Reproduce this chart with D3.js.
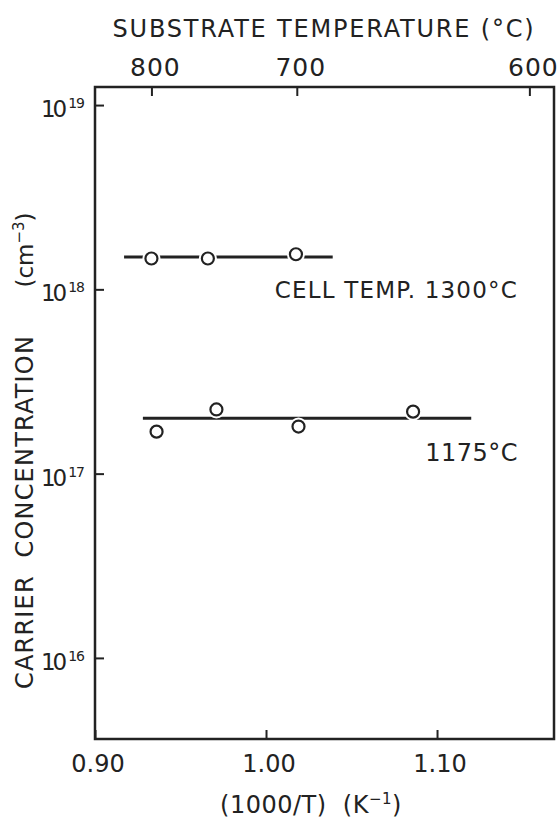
<!DOCTYPE html>
<html>
<head>
<meta charset="utf-8">
<script src="https://cdn.jsdelivr.net/npm/d3@7"></script>
<style>
  html, body { margin: 0; padding: 0; background: #fff; }
  svg { display: block; }
  text { font-family: "DejaVu Sans", sans-serif; fill: #222; }
</style>
</head>
<body>
<svg id="chart" width="559" height="822"></svg>
<script>
/* ---------- data ---------- */
const xTicks = [0.90, 1.00, 1.10];
const yTicks = [1e16, 1e17, 1e18, 1e19];

// substrate temperature ticks along the top, placed at their 1000/T position
const topTickPos = [0.933, 1.018, 1.154];
const topTickLabels = ['800', '700', '600'];

// cell temperature 1300 °C
const cell1300X = [0.933, 0.966, 1.0175];
const cell1300Y = [1.47e18, 1.47e18, 1.55e18];
const fit1300X = [0.917, 1.039];
const fit1300Y = 1.5e18;

// cell temperature 1175 °C
const cell1175X = [0.936, 0.971, 1.019, 1.086];
const cell1175Y = [1.69e17, 2.23e17, 1.80e17, 2.17e17];
const fit1175X = [0.928, 1.120];
const fit1175Y = 2.0e17;

/* ---------- layout ---------- */
const plotL = 95, plotR = 554, plotT = 87, plotB = 739;
const ink = '#222';

const svg = d3.select('#chart');

const x = d3.scaleLinear().domain([0.9, 1.1684]).range([plotL, plotR]);
const y = d3.scaleLog().domain([Math.pow(10, 15.56), Math.pow(10, 19.098)]).range([plotB, plotT]);

/* ---------- frame ---------- */
svg.append('rect')
  .attr('x', plotL).attr('y', plotT)
  .attr('width', plotR - plotL).attr('height', plotB - plotT)
  .attr('fill', 'none')
  .attr('stroke', ink)
  .attr('stroke-width', 2.5);

/* ---------- bottom axis ---------- */
const gx = svg.append('g').attr('transform', `translate(0,${plotB})`)
  .call(d3.axisTop(x).tickValues(xTicks).tickSize(9).tickFormat(''));
gx.select('.domain').remove();
gx.selectAll('.tick line').attr('stroke', ink).attr('stroke-width', 2);

svg.append('g').selectAll('text')
  .data(xTicks)
  .join('text')
  .attr('x', d => x(d) + 3)
  .attr('y', 772)
  .attr('text-anchor', 'middle')
  .attr('font-size', 24)
  .text(d => d.toFixed(2));

const xl = svg.append('text')
  .attr('x', 311).attr('y', 813)
  .attr('text-anchor', 'middle')
  .attr('font-size', 24)
  .attr('letter-spacing', 0.5);
xl.append('tspan').text('(1000/T)\u00a0\u00a0(K');
xl.append('tspan').attr('dy', -9).attr('font-size', 15).text('\u22121');
xl.append('tspan').attr('dy', 9).text(')');

/* ---------- top axis (substrate temperature) ---------- */
const gt = svg.append('g').attr('transform', `translate(0,${plotT})`)
  .call(d3.axisBottom(x).tickValues(topTickPos).tickSize(9).tickFormat(''));
gt.select('.domain').remove();
gt.selectAll('.tick line').attr('stroke', ink).attr('stroke-width', 2);

svg.append('g').selectAll('text')
  .data(topTickPos)
  .join('text')
  .attr('x', d => x(d) + 4)
  .attr('y', 76)
  .attr('text-anchor', 'middle')
  .attr('font-size', 25)
  .attr('letter-spacing', 1)
  .text((d, i) => topTickLabels[i]);

svg.append('text')
  .attr('x', 324).attr('y', 37)
  .attr('text-anchor', 'middle')
  .attr('font-size', 24)
  .attr('letter-spacing', 1.8)
  .text('SUBSTRATE TEMPERATURE (\u00b0C)');

/* ---------- left axis ---------- */
const gy = svg.append('g').attr('transform', `translate(${plotL},0)`)
  .call(d3.axisRight(y).tickValues(yTicks).tickSize(9).tickFormat(''));
gy.select('.domain').remove();
gy.selectAll('.tick line').attr('stroke', ink).attr('stroke-width', 2);

const yl = svg.append('g').selectAll('text')
  .data(yTicks)
  .join('text')
  .attr('x', 84)
  .attr('y', d => y(d) + 12)
  .attr('text-anchor', 'end')
  .attr('font-size', 23);
yl.append('tspan').attr('letter-spacing', -3).text('10');
yl.append('tspan')
  .attr('dy', -9)
  .attr('dx', 4)
  .attr('font-size', 14)
  .attr('letter-spacing', -1)
  .text(d => Math.round(Math.log10(d)));

svg.append('text')
  .attr('transform', 'translate(33,512) rotate(-90)')
  .attr('text-anchor', 'middle')
  .attr('font-size', 24)
  .attr('letter-spacing', 1.2)
  .text('CARRIER\u00a0\u00a0CONCENTRATION');

const cm = svg.append('text')
  .attr('transform', 'translate(33,250) rotate(-90)')
  .attr('text-anchor', 'middle')
  .attr('font-size', 23);
cm.append('tspan').text('(cm');
cm.append('tspan').attr('dy', -9).attr('font-size', 15).text('\u22123');
cm.append('tspan').attr('dy', 9).text(')');

/* ---------- series ---------- */
function drawSeries(fitX, fitY, xs, ys) {
  svg.append('line')
    .attr('x1', x(fitX[0])).attr('x2', x(fitX[1]))
    .attr('y1', y(fitY)).attr('y2', y(fitY))
    .attr('stroke', ink)
    .attr('stroke-width', 3);

  const pts = xs.map((v, i) => [v, ys[i]]);
  // white halo so the line breaks slightly around each ring
  svg.append('g').selectAll('circle')
    .data(pts)
    .join('circle')
    .attr('cx', d => x(d[0])).attr('cy', d => y(d[1]))
    .attr('r', 9)
    .attr('fill', '#fff');
  svg.append('g').selectAll('circle')
    .data(pts)
    .join('circle')
    .attr('cx', d => x(d[0])).attr('cy', d => y(d[1]))
    .attr('r', 6)
    .attr('fill', '#fff')
    .attr('stroke', ink)
    .attr('stroke-width', 2.2);
}

drawSeries(fit1300X, fit1300Y, cell1300X, cell1300Y);
drawSeries(fit1175X, fit1175Y, cell1175X, cell1175Y);

svg.append('text')
  .attr('x', 518).attr('y', 298)
  .attr('text-anchor', 'end')
  .attr('font-size', 23)
  .attr('letter-spacing', 1.2)
  .text('CELL TEMP. 1300\u00b0C');

svg.append('text')
  .attr('x', 518).attr('y', 461)
  .attr('text-anchor', 'end')
  .attr('font-size', 24)
  .attr('letter-spacing', 0.5)
  .text('1175\u00b0C');
</script>
</body>
</html>
